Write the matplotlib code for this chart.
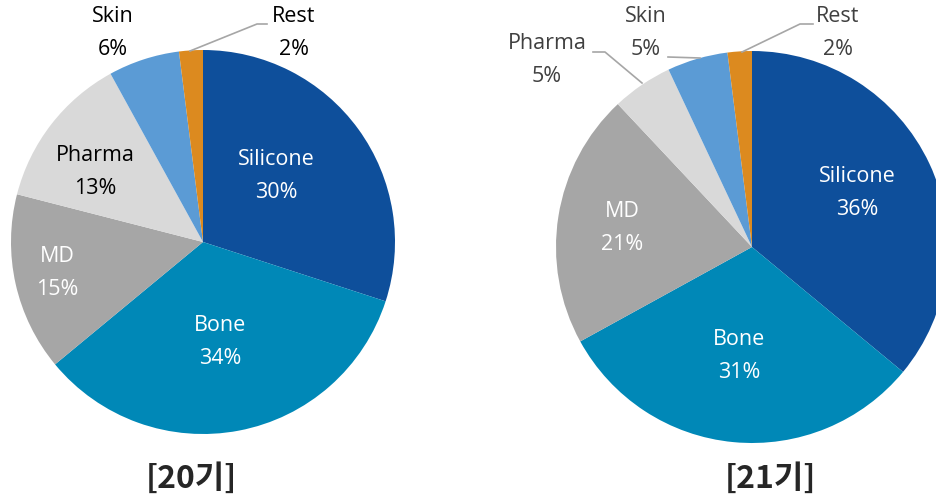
import matplotlib.pyplot as plt

# ==============================
# DATA
# ==============================
categories = ['Silicone', 'Bone', 'MD', 'Pharma', 'Skin', 'Rest']
share_20 = [30, 34, 15, 13, 6, 2]
share_21 = [36, 31, 21, 5, 5, 2]
titles = ['[20기]', '[21기]']

colors = ['#0E4F9B', '#0088B7', '#A6A6A6', '#D9D9D9', '#5B9BD5', '#DC8A1F']
W, H = 936, 503

# label centres in pixel coords (x, y from top), and text colours
pos_20 = [(276, 176), (220, 342), (57, 273), (95, 172), (113, 33), (294, 33)]
pos_21 = [(857, 193), (739, 356), (622, 228), (547, 60), (646, 33), (838, 33)]
col_20 = ['white', 'white', 'white', 'black', 'black', 'black']
col_21 = ['white', 'white', 'white', '#404040', '#404040', '#404040']

# leader lines (pixel coords)
lines_20 = [[(267, 24), (257, 24), (190, 51)]]
lines_21 = [[(593, 52), (605, 52), (642, 83)],
            [(668, 57), (700, 58)],
            [(813, 24), (800, 24), (742, 52)]]

fig = plt.figure(figsize=(W / 100, H / 100), dpi=100)
ax = fig.add_axes([0, 0, 1, 1])

charts = [
    (share_20, (203, 242), 192, pos_20, col_20, lines_20, 191),
    (share_21, (752, 247), 196, pos_21, col_21, lines_21, 770),
]

for (vals, c, r, pos, tcol, lines, tx), title in zip(charts, titles):
    ax.pie(vals, colors=colors, startangle=90, counterclock=False,
           center=(c[0], H - c[1]), radius=r, frame=True,
           wedgeprops=dict(linewidth=0))
    for name, v, (x, y), tc in zip(categories, vals, pos, tcol):
        ax.text(x, H - y, f'{name}\n{v}%', ha='center', va='center',
                fontsize=15.5, color=tc, family='Open Sans', linespacing=1.75)
    for ln in lines:
        ax.plot([p[0] for p in ln], [H - p[1] for p in ln],
                color='#A6A6A6', lw=1.2)
    ax.text(tx, H - 479, title, ha='center', va='center', fontsize=23,
            fontweight='bold', color='#262626', family='Noto Sans CJK KR')

ax.set_xlim(0, W)
ax.set_ylim(0, H)
ax.set_aspect('equal')
ax.axis('off')
fig.savefig('out.png', dpi=100)
